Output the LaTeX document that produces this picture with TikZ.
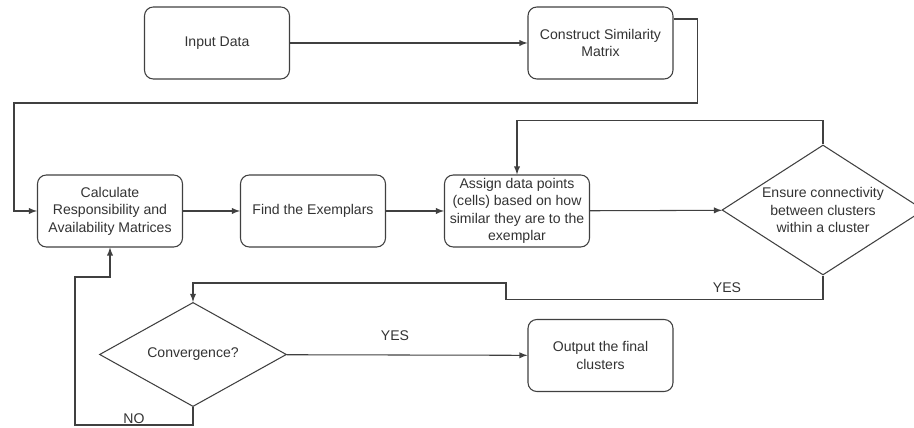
\documentclass[tikz,border=0pt]{standalone}
\usepackage{fontspec}
\setmainfont{Liberation Sans}
\usetikzlibrary{arrows,positioning}
\usetikzlibrary{shapes.geometric}

\begin{document}
\begin{tikzpicture}[x=0.02cm,y=-0.02cm,>=latex,line width=0.6pt,draw=black!75,
  procBox/.style={rectangle,rounded corners=5pt,draw=black!75,minimum width=2.9cm,minimum height=1.44cm,inner sep=1pt,align=center,font=\fontsize{8}{10}\selectfont,text=black!80},
  decision/.style={diamond,draw=black!75,inner sep=0pt,align=center,font=\fontsize{8}{10}\selectfont,text=black!80},
  branchLbl/.style={font=\fontsize{8}{10}\selectfont,text=black!80,inner sep=0pt}]
\useasboundingbox (0,0) rectangle (914,428);

\node[procBox] (inputData) at (217,43) {Input Data};
\node[procBox] (simMatrix) at (600.5,43) {Construct Similarity\\Matrix};

\node[procBox] (calcResp) at (110,211) {Calculate\\Responsibility and\\Availability Matrices};
\node[procBox] (findEx) at (313,211) {Find the Exemplars};
\node[procBox] (assignPts) at (517,211) {Assign data points\\(cells) based on how\\similar they are to the\\exemplar};
\node[decision,aspect=1.55,minimum width=4.04cm,minimum height=2.6cm] (ensureConn) at (823,210) {Ensure connectivity\\between clusters\\within a cluster};

\node[decision,minimum width=3.74cm,minimum height=1.78cm] (convCheck) at (193,354.5) {Convergence?};
\node[procBox] (outClusters) at (600.5,355.5) {Output the final\\clusters};

\node[branchLbl] (yesEnsure) at (727,288) {YES};
\node[branchLbl] (yesConv) at (395,336) {YES};
\node[branchLbl] (noConv) at (134,419) {NO};

% main chain
\path[->] (inputData) edge node {} (simMatrix);
\path[->] (calcResp) edge node {} (findEx);
\path[->] (findEx) edge node {} (assignPts);
\path[->] (assignPts) edge node {} (ensureConn);
\path[->] (convCheck) edge node {} (outClusters);

% similarity matrix goes back down to the first step
\draw[->] ([yshift=0.48cm]simMatrix.east) -- ++(24,0) |- (14,103) |- (calcResp.west);

% loops
\draw[->] (ensureConn.north) -- ++(0,-24) -| (assignPts.north);
\draw[->] (ensureConn.south) -- ++(0,24) -| (506,283) -| (convCheck.north);
\draw[->] (convCheck.south) |- (75,425) -- (75,277) -| (calcResp.south);
\end{tikzpicture}
\end{document}
